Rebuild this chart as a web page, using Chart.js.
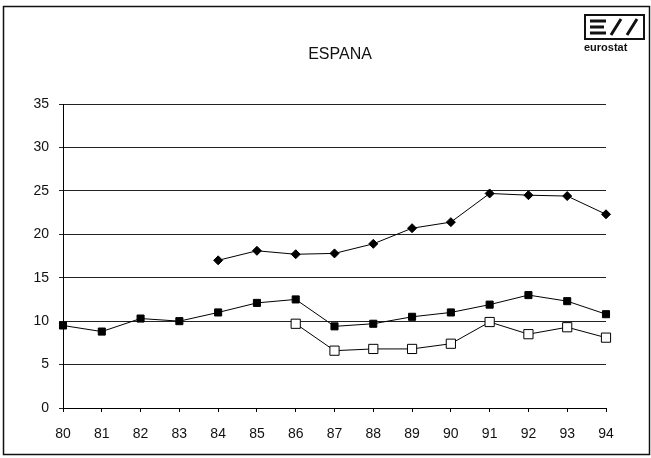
<!DOCTYPE html>
<html>
<head>
<meta charset="utf-8">
<script src="https://cdn.jsdelivr.net/npm/chart.js@4"></script>
<style>
  html, body { margin: 0; padding: 0; background: #fff; }
  #wrap { width: 651px; height: 458px; position: relative; }
</style>
</head>
<body>
<div id="wrap"><canvas id="chart" width="651" height="458"></canvas></div>
<script>
// Years on the x axis (19xx)
const years = ['80', '81', '82', '83', '84', '85', '86', '87', '88', '89', '90', '91', '92', '93', '94'];

// Diamond series, starts in 84
const diamondValues = [null, null, null, null, 17.0, 18.1, 17.7, 17.8, 18.9, 20.7, 21.4, 24.7, 24.5, 24.4, 22.3];
// Filled square series
const filledValues = [9.5, 8.8, 10.3, 10.0, 11.0, 12.1, 12.5, 9.4, 9.7, 10.5, 11.0, 11.9, 13.0, 12.3, 10.8];
// Open square series, starts in 86
const openValues = [null, null, null, null, null, null, 9.7, 6.6, 6.8, 6.8, 7.4, 9.9, 8.5, 9.3, 8.1];

const yMin = 0;
const yMax = 35;
const yStep = 5;
const chartTitle = 'ESPANA';
const logoText = 'eurostat';

const FONT = "'Liberation Sans', Arial, sans-serif";

// Frame, title and logo drawn around the chart
const decorPlugin = {
    id: 'decor',
    beforeDraw(chart) {
        const ctx = chart.ctx;
        ctx.save();
        ctx.fillStyle = '#fff';
        ctx.fillRect(0, 0, chart.width, chart.height);
        ctx.restore();
    },
    afterDraw(chart) {
        const ctx = chart.ctx;
        ctx.save();
        // outer frame
        ctx.strokeStyle = '#111';
        ctx.lineWidth = 1.5;
        ctx.strokeRect(3.5, 6.5, 646, 448);

        // title
        ctx.fillStyle = '#111';
        ctx.font = '16px ' + FONT;
        ctx.textAlign = 'center';
        ctx.textBaseline = 'middle';
        ctx.fillText(chartTitle, 340, 55);

        // logo
        ctx.lineWidth = 2;
        ctx.strokeRect(585, 15, 59, 24);
        ctx.beginPath();
        ctx.moveTo(590, 21); ctx.lineTo(606, 21);
        ctx.moveTo(590, 27); ctx.lineTo(604, 27);
        ctx.moveTo(590, 33); ctx.lineTo(606, 33);
        ctx.moveTo(611, 35); ctx.lineTo(621, 19);
        ctx.moveTo(627, 35); ctx.lineTo(637, 19);
        ctx.lineWidth = 3;
        ctx.stroke();
        ctx.font = 'bold 11px ' + FONT;
        ctx.textAlign = 'left';
        ctx.fillText(logoText, 584, 48);
        ctx.restore();
    }
};

const ctx = document.getElementById('chart');

new Chart(ctx, {
    type: 'line',
    data: {
        labels: years,
        datasets: [{
            label: 'diamond',
            data: diamondValues,
            borderColor: '#000',
            backgroundColor: '#000',
            borderWidth: 1,
            pointStyle: 'rectRot',
            pointRadius: 4.5,
            pointBorderWidth: 1,
            spanGaps: false
        }, {
            label: 'filled',
            data: filledValues,
            borderColor: '#000',
            backgroundColor: '#000',
            borderWidth: 1,
            pointStyle: 'rect',
            pointRadius: 5,
            pointBorderWidth: 1
        }, {
            label: 'open',
            data: openValues,
            borderColor: '#000',
            backgroundColor: '#fff',
            pointBackgroundColor: '#fff',
            borderWidth: 1,
            pointStyle: 'rect',
            pointRadius: 6.5,
            pointBorderWidth: 1
        }]
    },
    options: {
        responsive: false,
        animation: false,
        layout: {
            padding: { left: 0, right: 45, top: 104, bottom: 0 }
        },
        plugins: {
            legend: { display: false },
            title: { display: false },
            tooltip: { enabled: false }
        },
        scales: {
            x: {
                offset: false,
                grid: {
                    drawOnChartArea: false,
                    drawTicks: true,
                    tickLength: 4,
                    color: '#000'
                },
                border: { color: '#000', width: 1 },
                ticks: {
                    color: '#111',
                    font: { family: FONT, size: 14 },
                    padding: 14,
                    maxRotation: 0,
                    autoSkip: false
                },
                afterFit(scale) { scale.height = 50; }
            },
            y: {
                min: yMin,
                max: yMax,
                grid: {
                    color: '#222',
                    lineWidth: 1,
                    tickLength: 4
                },
                border: { color: '#000', width: 1 },
                ticks: {
                    stepSize: yStep,
                    color: '#111',
                    font: { family: FONT, size: 14 },
                    padding: 10
                },
                afterFit(scale) { scale.width = 63; }
            }
        }
    },
    plugins: [decorPlugin]
});
</script>
</body>
</html>
